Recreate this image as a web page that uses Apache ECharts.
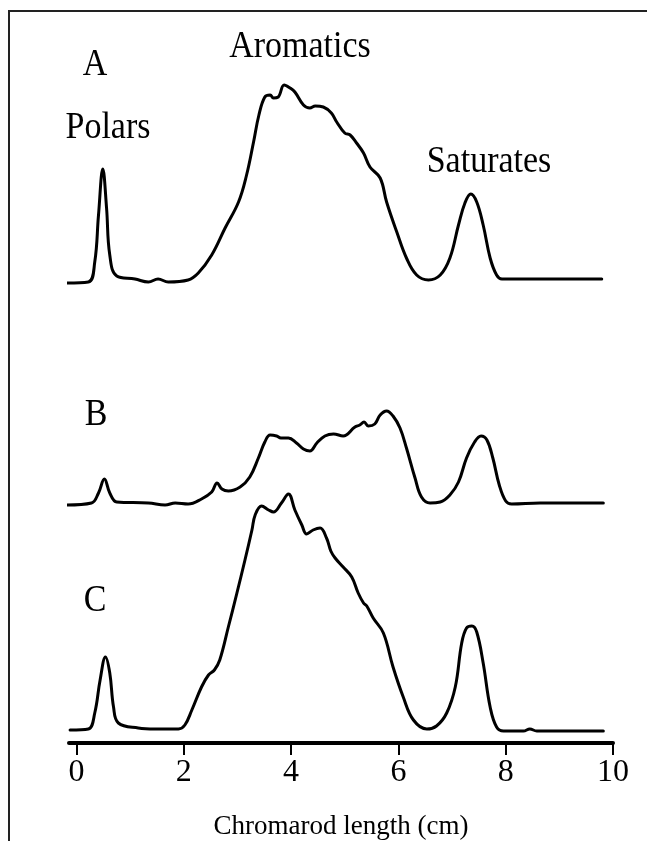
<!DOCTYPE html>
<html>
<head>
<meta charset="utf-8">
<script src="https://cdn.jsdelivr.net/npm/echarts@6/dist/echarts.min.js"></script>
<style>
  html, body { margin: 0; padding: 0; background: #fff; }
  #chart { width: 647px; height: 841px; }
</style>
</head>
<body>
<div id="chart"></div>
<script>
// chromarod scans: [position (cm), detector signal above the trace baseline]
const traceA = [
  [-0.25, 0], [0.22, 1], [0.34, 21], [0.41, 68], [0.49, 114], [0.56, 75], [0.62, 28], [0.75, 7],
  [1.09, 4], [1.34, 1], [1.52, 4], [1.71, 1], [2.08, 3], [2.27, 10], [2.52, 28], [2.77, 55],
  [3.02, 81], [3.17, 108], [3.30, 141], [3.40, 168], [3.51, 186], [3.61, 188], [3.67, 185],
  [3.76, 186], [3.87, 198], [3.98, 195], [4.07, 191], [4.23, 178], [4.35, 175], [4.45, 177],
  [4.60, 176], [4.75, 170], [4.85, 161], [5.00, 150], [5.10, 148], [5.22, 140], [5.35, 130],
  [5.47, 116], [5.66, 105], [5.78, 81], [5.97, 51], [6.15, 25], [6.34, 8], [6.56, 3],
  [6.78, 8], [6.96, 25], [7.12, 58], [7.24, 80], [7.35, 89], [7.46, 81], [7.58, 58],
  [7.71, 25], [7.83, 8], [7.93, 4], [8.76, 4], [9.79, 4]
]
const traceB = [
  [-0.18, 0], [0.28, 2], [0.41, 12], [0.52, 26], [0.62, 12], [0.75, 3], [1.34, 2], [1.65, 0],
  [1.84, 2], [2.08, 1], [2.33, 6], [2.52, 13], [2.62, 22], [2.71, 16], [2.83, 14], [3.05, 18],
  [3.23, 28], [3.39, 47], [3.51, 63], [3.61, 70], [3.73, 69], [3.81, 67], [3.95, 67],
  [4.10, 62], [4.23, 56], [4.35, 54], [4.48, 62], [4.63, 69], [4.79, 71], [4.97, 69],
  [5.19, 78], [5.28, 80], [5.36, 83], [5.44, 79], [5.56, 81], [5.66, 90], [5.78, 94],
  [5.90, 89], [6.03, 77], [6.15, 57], [6.31, 27], [6.43, 8], [6.59, 2], [6.78, 3],
  [6.96, 10], [7.12, 23], [7.27, 47], [7.42, 63], [7.54, 69], [7.65, 65], [7.76, 47],
  [7.88, 20], [8.00, 4], [8.11, 1], [8.64, 2], [9.82, 2]
]
const traceC = [
  [-0.12, 1], [0.22, 2], [0.34, 18], [0.44, 51], [0.54, 74], [0.62, 58], [0.69, 24], [0.78, 8],
  [1.15, 3], [1.46, 2], [1.90, 2], [2.02, 6], [2.15, 21], [2.33, 44], [2.46, 56], [2.57, 61],
  [2.67, 71], [2.83, 104], [2.99, 138], [3.14, 171], [3.27, 201], [3.33, 216], [3.45, 225],
  [3.58, 221], [3.67, 219], [3.82, 228], [3.95, 237], [4.07, 221], [4.20, 206], [4.29, 197],
  [4.41, 201], [4.54, 203], [4.66, 193], [4.74, 180], [4.82, 173], [4.97, 164], [5.13, 154],
  [5.25, 138], [5.35, 128], [5.41, 125], [5.53, 113], [5.72, 98], [5.90, 64], [6.09, 34],
  [6.28, 11], [6.53, 2], [6.71, 5], [6.90, 18], [7.06, 44], [7.18, 88], [7.27, 103],
  [7.37, 105], [7.46, 99], [7.58, 68], [7.71, 24], [7.83, 4], [7.96, 0], [8.33, 0],
  [8.45, 2], [8.58, 0], [9.82, 0]
]
// vertical offset of each scan in the stack
const offsets = [460, 238, 12]
const xTicks = [0, 2, 4, 6, 8, 10]

const serif = "'Liberation Serif', 'DejaVu Serif', serif"

let myChart = echarts.init(document.getElementById('chart'))

function shift (trace, off) {
  return trace.map(p => [p[0], p[1] + off])
}

function scan (name, trace, off) {
  return {
    name: name,
    type: 'line',
    data: shift(trace, off),
    showSymbol: false,
    smooth: 0.4,
    clip: false,
    lineStyle: { color: '#000', width: 3, join: 'round', cap: 'round' }
  }
}

// text is a little taller than plain Times in the scan
function label (text, x, y, size) {
  return {
    type: 'text',
    x: x,
    y: y,
    scaleY: 1.12,
    style: {
      text: text,
      fill: '#000',
      font: size + 'px ' + serif,
      align: 'center',
      verticalAlign: 'middle'
    }
  }
}

let opt = {
  animation: false,
  backgroundColor: '#fff',
  // fixed plot box, don't let the axis name squeeze it
  grid: { left: 69, right: 34, top: 12, bottom: 98, outerBoundsMode: 'none', containLabel: false },
  xAxis: {
    type: 'value',
    min: -0.14,
    max: 10,
    name: 'Chromarod length (cm)',
    nameLocation: 'middle',
    nameGap: 70,
    nameTextStyle: { color: '#000', fontSize: 27, fontFamily: serif },
    axisLine: { lineStyle: { color: '#000', width: 4 } },
    axisTick: { customValues: xTicks, length: 12, lineStyle: { color: '#000', width: 2 } },
    axisLabel: { customValues: xTicks, margin: 14, color: '#000', fontSize: 32, fontFamily: serif },
    splitLine: { show: false }
  },
  yAxis: {
    type: 'value',
    min: 0,
    max: 731,
    show: false
  },
  series: [
    scan('A', traceA, offsets[0]),
    scan('B', traceB, offsets[1]),
    scan('C', traceC, offsets[2])
  ],
  graphic: [
    // frame of the original figure (open on the right and bottom)
    {
      type: 'polyline',
      shape: { points: [[9, 841], [9, 11], [647, 11]] },
      style: { stroke: '#222', lineWidth: 2, fill: null }
    },
    label('A', 95, 65, 34),
    label('Aromatics', 300, 47, 34),
    label('Polars', 108, 128, 34),
    label('Saturates', 489, 162, 34),
    label('B', 96, 415, 34),
    label('C', 95, 601, 34)
  ]
}

myChart.setOption(opt)
</script>
</body>
</html>
